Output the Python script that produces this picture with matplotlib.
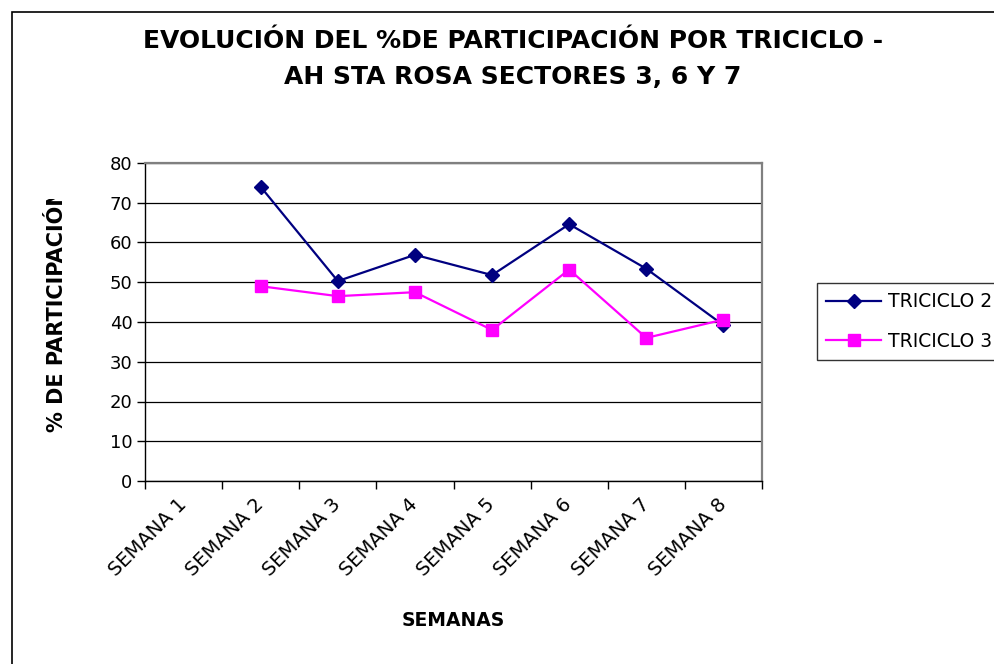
import matplotlib
import matplotlib.pyplot as plt
import numpy as np
from matplotlib.patches import Rectangle

matplotlib.use("Agg")
plt.rcParams["font.family"] = ["DejaVu Sans"]

# Data
semanas = ["SEMANA 1", "SEMANA 2", "SEMANA 3", "SEMANA 4",
           "SEMANA 5", "SEMANA 6", "SEMANA 7", "SEMANA 8"]
triciclo_2 = [np.nan, 74.0, 50.3, 56.9, 51.8, 64.6, 53.4, 39.2]
triciclo_3 = [np.nan, 49.0, 46.5, 47.5, 38.0, 53.2, 36.0, 40.6]
y_ticks = [0, 10, 20, 30, 40, 50, 60, 70, 80]

W, H = 994, 664
fig = plt.figure(figsize=(W / 100, H / 100), dpi=100)

# Outer chart border (runs off the right and bottom edge)
fig.patches.append(Rectangle((12 / W, -0.1), 1.2, (H - 12) / H + 0.1,
                             transform=fig.transFigure, fill=False,
                             edgecolor="black", linewidth=1.2))

ax = fig.add_axes([145 / W, (H - 481) / H, 617 / W, 318 / H])

x = np.arange(len(semanas)) + 0.5
ax.plot(x, triciclo_2, color="#000080", linewidth=1.6, marker="D",
        markersize=6.8, label="TRICICLO 2", clip_on=False, zorder=3)
ax.plot(x, triciclo_3, color="#FF00FF", linewidth=1.6, marker="s",
        markersize=8.5, label="TRICICLO 3", clip_on=False, zorder=3)

ax.set_xlim(0, len(semanas))
ax.set_ylim(0, 80)
ax.set_yticks(y_ticks)
ax.set_yticklabels([str(v) for v in y_ticks], fontsize=13)
ax.tick_params(axis="y", direction="out", length=6, width=1, pad=3)

# ticks at category boundaries, labels at centers
ax.set_xticks(np.arange(len(semanas) + 1))
ax.set_xticklabels([])
ax.tick_params(axis="x", which="major", direction="out", length=6, width=1)
ax.set_xticks(x, minor=True)
ax.set_xticklabels(semanas, minor=True, rotation=45, ha="right",
                   va="center", rotation_mode="anchor", fontsize=14)
ax.tick_params(axis="x", which="minor", length=0, pad=15)

ax.grid(axis="y", color="black", linewidth=0.9)
ax.set_axisbelow(True)
for s in ["top", "right"]:
    ax.spines[s].set_color("#808080")
    ax.spines[s].set_linewidth(1.6)
for s in ["left", "bottom"]:
    ax.spines[s].set_color("black")
    ax.spines[s].set_linewidth(1.0)

fig.text(513 / W, 1 - 41 / H, "EVOLUCIÓN DEL %DE PARTICIPACIÓN POR TRICICLO -",
         ha="center", va="center", fontsize=18, fontweight="bold")
fig.text(513 / W, 1 - 77 / H, "AH STA ROSA SECTORES 3, 6 Y 7",
         ha="center", va="center", fontsize=18, fontweight="bold")

fig.text(453 / W, 1 - 621 / H, "SEMANAS", ha="center", va="center",
         fontsize=13.5, fontweight="bold")

ylab = fig.text(57 / W, 1 - 432 / H, "% DE PARTICIPACIÓN", rotation=90,
                rotation_mode="anchor", ha="left", va="center",
                fontsize=15, fontweight="bold")
ylab.set_clip_path(Rectangle((0, 0), 1, (H - 199) / H,
                             transform=fig.transFigure))

leg = fig.legend(loc="upper left", bbox_to_anchor=(817 / W, 1 - 283 / H),
                 frameon=True, fancybox=False, edgecolor="black",
                 fontsize=13.5, handlelength=2.9, borderpad=0.5,
                 labelspacing=1.1, handletextpad=0.4, borderaxespad=0)
leg.get_frame().set_linewidth(1.0)

fig.savefig("out.png", dpi=100)
